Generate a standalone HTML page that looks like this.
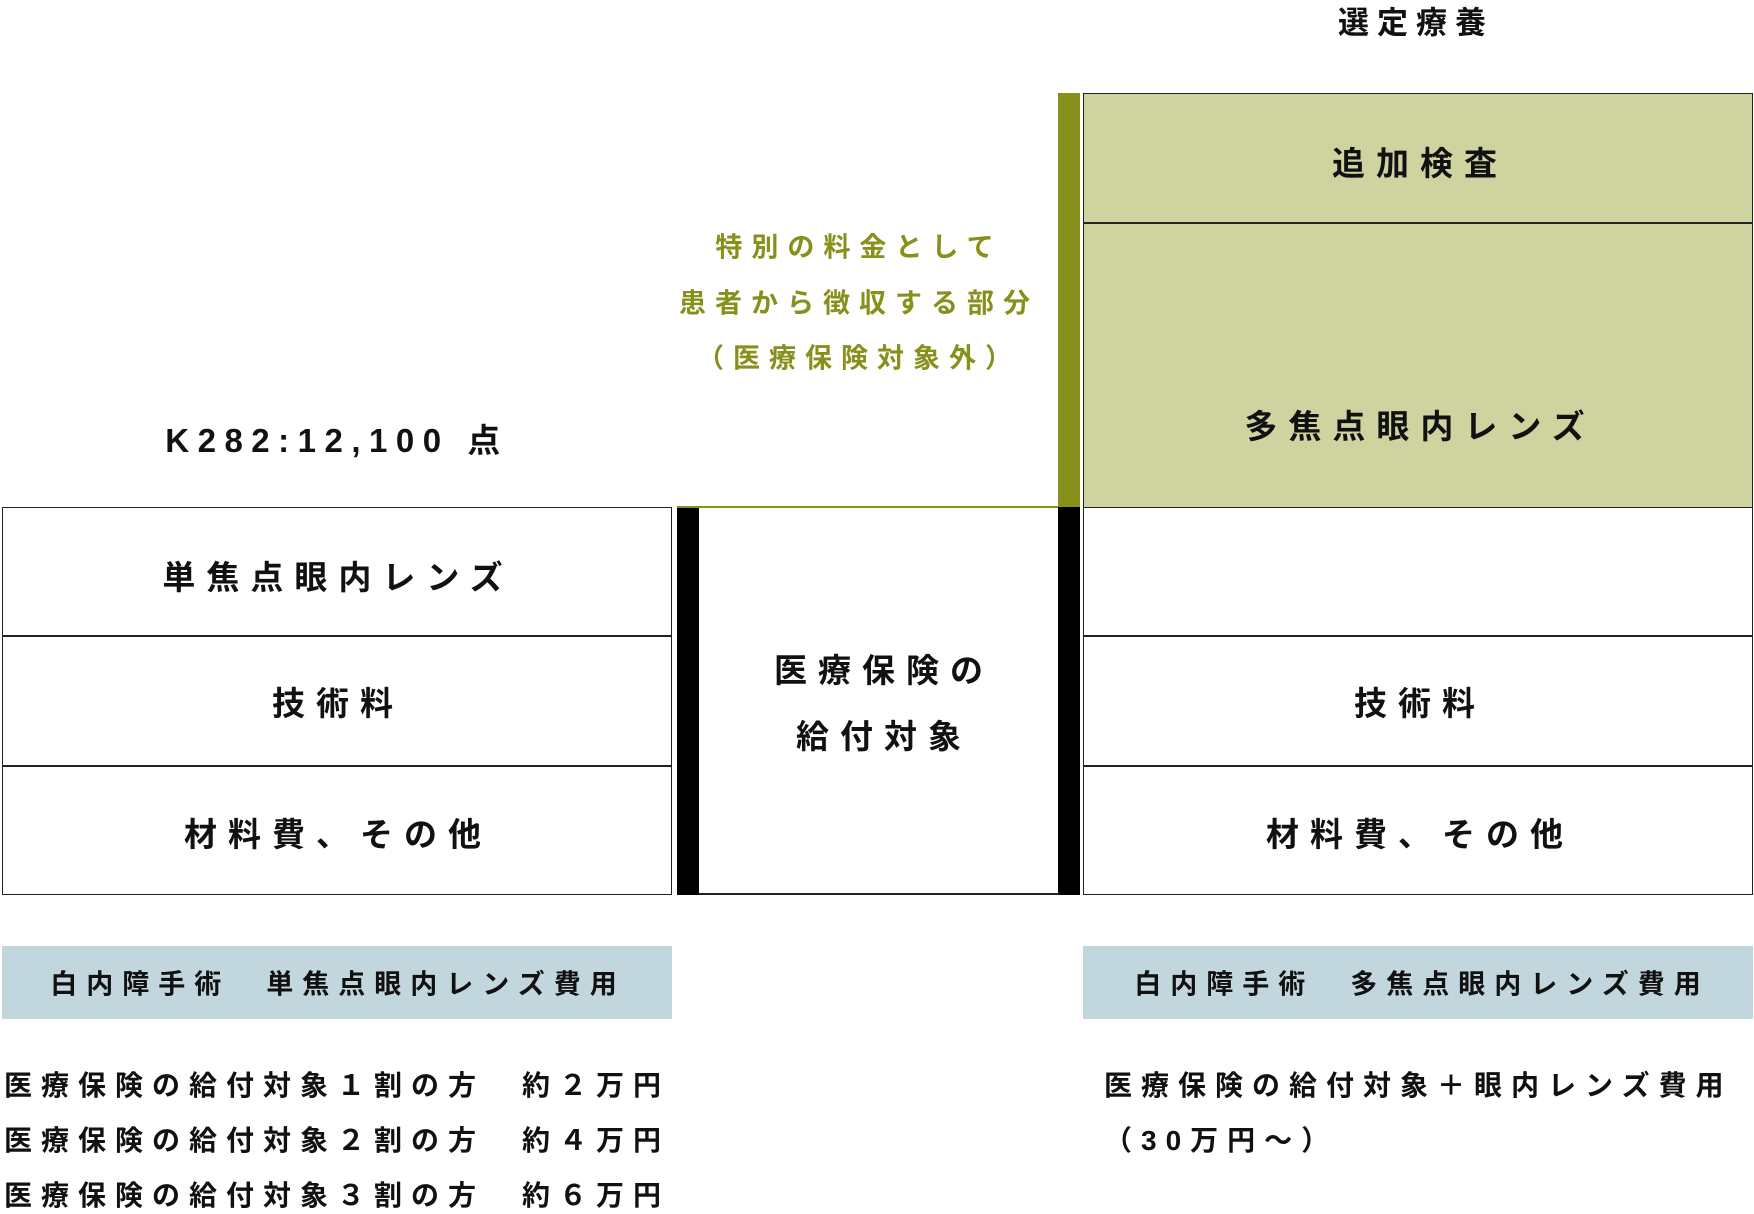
<!DOCTYPE html>
<html><head><meta charset="utf-8"><style>
body{margin:0;width:1754px;height:1213px;background:#fff;position:relative;overflow:hidden;font-family:"Liberation Sans","Noto Sans CJK JP",sans-serif;color:#111;font-weight:bold}
.a{position:absolute;box-sizing:border-box}
.t{position:absolute;white-space:nowrap;transform:translate(-50%,-50%);}
.bx{font-size:33px;letter-spacing:11px}
.g{color:#86901a;font-size:27px;letter-spacing:9px}
.b{font-size:27px;letter-spacing:9px}
.l{position:absolute;white-space:nowrap;font-size:28px;letter-spacing:9px;transform:translateY(-50%)}
</style></head><body>
<div class="a" style="left:2px;top:507px;width:670px;height:388px;border:1.5px solid #222"></div>
<div class="a" style="left:2px;top:635px;width:670px;height:1.5px;background:#222"></div>
<div class="a" style="left:2px;top:765px;width:670px;height:1.5px;background:#222"></div>
<div class="a" style="left:677px;top:507px;width:22px;height:388px;background:#000"></div>
<div class="a" style="left:1058px;top:507px;width:22px;height:388px;background:#000"></div>
<div class="a" style="left:699px;top:893px;width:359px;height:1.5px;background:#222"></div>
<div class="a" style="left:677px;top:506px;width:381px;height:1.5px;background:#86901a"></div>
<div class="a" style="left:1058px;top:93px;width:22px;height:414px;background:#86901a"></div>
<div class="a" style="left:1083px;top:93px;width:670px;height:414px;background:#ced3a0;border:1.5px solid #222;border-bottom:none"></div>
<div class="a" style="left:1083px;top:222px;width:670px;height:1.5px;background:#222"></div>
<div class="a" style="left:1083px;top:507px;width:670px;height:388px;border:1.5px solid #222"></div>
<div class="a" style="left:1083px;top:635px;width:670px;height:1.5px;background:#222"></div>
<div class="a" style="left:1083px;top:765px;width:670px;height:1.5px;background:#222"></div>
<div class="a" style="left:2px;top:946px;width:670px;height:73px;background:#c2d7dd"></div>
<div class="a" style="left:1083px;top:946px;width:670px;height:73px;background:#c2d7dd"></div>

<div class="t" style="left:1416px;top:20px;font-size:31px;letter-spacing:8px">選定療養</div>
<div class="t" style="left:337px;top:438px;font-size:33px;letter-spacing:8.5px">K282:12,100 点</div>
<div class="t g" style="left:859px;top:245px">特別の料金として</div>
<div class="t g" style="left:859px;top:301px">患者から徴収する部分</div>
<div class="t g" style="left:859px;top:356px">（医療保険対象外）</div>

<div class="t bx" style="left:338px;top:575px">単焦点眼内レンズ</div>
<div class="t bx" style="left:338px;top:701px">技術料</div>
<div class="t bx" style="left:338px;top:832px">材料費、その他</div>
<div class="t bx" style="left:884px;top:668px">医療保険の</div>
<div class="t bx" style="left:884px;top:734px">給付対象</div>
<div class="t bx" style="left:1420px;top:161px">追加検査</div>
<div class="t bx" style="left:1420px;top:424px">多焦点眼内レンズ</div>
<div class="t bx" style="left:1420px;top:701px">技術料</div>
<div class="t bx" style="left:1420px;top:832px">材料費、その他</div>

<div class="t b" style="left:338px;top:982px">白内障手術　単焦点眼内レンズ費用</div>
<div class="t b" style="left:1422px;top:982px">白内障手術　多焦点眼内レンズ費用</div>

<div class="l" style="left:4px;top:1084px">医療保険の給付対象１割の方　約２万円</div>
<div class="l" style="left:4px;top:1139px">医療保険の給付対象２割の方　約４万円</div>
<div class="l" style="left:4px;top:1194px">医療保険の給付対象３割の方　約６万円</div>
<div class="l" style="left:1104px;top:1084px">医療保険の給付対象＋眼内レンズ費用</div>
<div class="l" style="left:1104px;top:1139px">（30万円～）</div>
</body></html>
